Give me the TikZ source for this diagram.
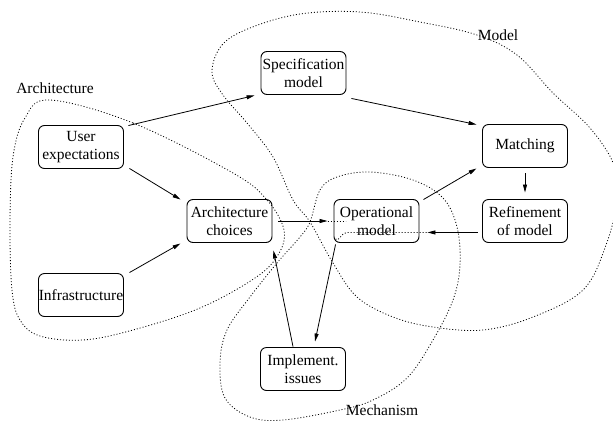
\documentclass[tikz,border=0pt]{standalone}
\usepackage{fontspec}
\setmainfont{Liberation Serif}
\usetikzlibrary{arrows.meta,calc}
\begin{document}
\begin{tikzpicture}[x=1pt,y=-1pt,
  box/.style={draw, rounded corners=6pt, minimum width=85pt, minimum height=43pt,
    inner sep=0pt, align=center, font=\fontsize{15.5}{17.5}\selectfont, line width=0.9pt},
  link/.style={line width=0.8pt, -{Triangle[length=8pt,width=4pt]}},
  region/.style={line width=0.8pt, dash pattern=on 1pt off 2pt},
  tag/.style={font=\fontsize{15.5}{17.5}\selectfont, anchor=base, inner sep=0pt}]
\useasboundingbox (0,0) rectangle (613,421);

% dotted regions
\begin{scope}
\clip (0,0) rectangle (613,421);
% Architecture region
\draw[region] plot[smooth cycle, tension=0.6] coordinates {
  (50,100) (133,123) (233,173) (267,200) (284,230) (278,255) (255,278)
  (200,308) (133,330) (83,340) (40,336) (20,320) (12,290) (10,223)
  (13,157) (25,118)};
% Model region
\draw[region] plot[smooth cycle, tension=0.6] coordinates {
  (212,72) (222,45) (250,28) (300,14) (360,12) (420,22) (477,35) (517,55)
  (553,93) (590,128) (614,165) (617,200) (606,245) (583,290) (533,317)
  (483,330) (433,327) (393,317) (357,297) (333,263) (310,222) (293,200)
  (273,157) (247,123) (223,95)};
% Mechanism region
\draw[region] plot[smooth cycle, tension=0.6] coordinates {
  (310,222) (320,190) (337,177) (370,172) (413,180) (443,198) (457,227)
  (460,265) (453,300) (433,340) (407,378) (373,400) (340,410) (283,420)
  (250,417) (225,398) (220,363) (227,330) (250,297) (277,263) (300,237)};
\end{scope}

% region labels
\node[tag] (tarch) at (55,93) {Architecture};
\node[tag] (tmodel) at (498,40) {Model};
\node[tag] (tmech) at (382,415) {Mechanism};

% boxes
\node[box] (spec)   at (303.5,73)  {Specification\\model};
\node[box] (user)   at (81,147)    {User\\expectations};
\node[box] (arch)   at (229.5,221) {Architecture\\choices};
\node[box] (infra)  at (81,295)    {Infrastructure};
\node[box] (oper)   at (376.5,221) {Operational\\model};
\node[box] (match)  at (525,146)   {Matching};
\node[box] (refine) at (525,221)   {Refinement\\of model};
\node[box] (impl)   at (303,369)   {Implement.\\issues};

% connectors
\draw[link] ($(user.north east)+(4.5,0.5)$) -- ($(spec.south west)+(-6,0.5)$);
\draw[link] ($(user.south east)+(5.5,-0.5)$) -- ($(arch.north west)+(-6,0.5)$);
\draw[link] ($(infra.north east)+(5.5,-0.5)$) -- ($(arch.south west)+(-6,0.5)$);
\draw[link] ($(arch.east)+(6,0)$) -- ($(oper.west)+(-6,0)$);
\draw[link] ($(spec.south east)+(5,3.5)$) -- ($(match.north west)+(-5.5,0.5)$);
\draw[link] ($(oper.north east)+(4,0.5)$) -- ($(match.south west)+(-5.5,0.5)$);
\draw[link] ($(match.south)+(0,5.5)$) -- ($(refine.north)+(0,-6.5)$);
\draw[link] ($(refine.south west)+(-4.5,-10.5)$) -- ($(oper.south east)+(8,-10.5)$);
\draw[link] ($(oper.south west)+(2,1.5)$) -- ($(impl.north)+(12,-5.5)$);
\draw[link] ($(impl.north)+(-10,-0.5)$) -- ($(arch.south east)+(1,7.5)$);

% dotted traces running through the operational box
\draw[region] ($(oper.west)+(-6,0)$) -- ($(oper.west)+(12,0)$);
\draw[region] ($(oper.south west)+(2,-4)$) to[out=-60,in=180]
  ($(oper.south west)+(13,-10.5)$) -- ($(oper.south east)+(8,-10.5)$);
\end{tikzpicture}
\end{document}
